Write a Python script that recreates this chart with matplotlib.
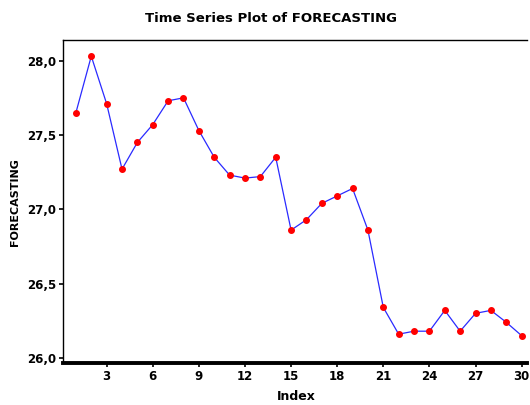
import matplotlib
matplotlib.use("Agg")
import matplotlib.pyplot as plt
from matplotlib.ticker import FuncFormatter

index = list(range(1, 31))
forecasting = [27.65, 28.03, 27.71, 27.27, 27.45, 27.57, 27.73, 27.75, 27.53, 27.35,
               27.23, 27.21, 27.22, 27.35, 26.86, 26.93, 27.04, 27.09, 27.14, 26.86,
               26.34, 26.16, 26.18, 26.18, 26.32, 26.18, 26.30, 26.32, 26.24, 26.15]
xticks = [3, 6, 9, 12, 15, 18, 21, 24, 27, 30]
yticks = [26.0, 26.5, 27.0, 27.5, 28.0]

plt.rcParams['font.family'] = ['DejaVu Sans']
fig = plt.figure(figsize=(5.3, 4.05), dpi=100)
ax = fig.add_axes([63/530, 1-363/405, (527-63)/530, (363-40)/405])

ax.plot(index, forecasting, color='#2a2aff', lw=0.9, zorder=2)
ax.plot(index, forecasting, 'o', color='#ff0000', ms=4.0, mec='#ff0000', zorder=3)

ax.set_xlim(0.16, 30.35)
ax.set_ylim(25.966, 28.139)
ax.set_xticks(xticks)
ax.set_yticks(yticks)
ax.yaxis.set_major_formatter(FuncFormatter(lambda v, p: f"{v:.1f}".replace('.', ',')))
for lab in ax.get_xticklabels() + ax.get_yticklabels():
    lab.set_fontweight('bold')
    lab.set_fontsize(8.5)
ax.tick_params(axis='both', direction='out', length=3, width=1.2, pad=2, colors='black')

ax.spines['right'].set_visible(False)
ax.spines['bottom'].set_linewidth(2.8)
ax.spines['left'].set_linewidth(1.0)
ax.spines['top'].set_linewidth(1.0)

fig.text(271/530, 1-18/405, 'Time Series Plot of FORECASTING', ha='center', va='center',
         fontsize=9.5, fontweight='bold')
fig.text(296/530, 1-397/405, 'Index', ha='center', va='center', fontsize=9, fontweight='bold')
fig.text(15/530, 1-202/405, 'FORECASTING', ha='center', va='center', rotation=90,
         fontsize=8, fontweight='bold')

fig.savefig('out.png', dpi=100)
